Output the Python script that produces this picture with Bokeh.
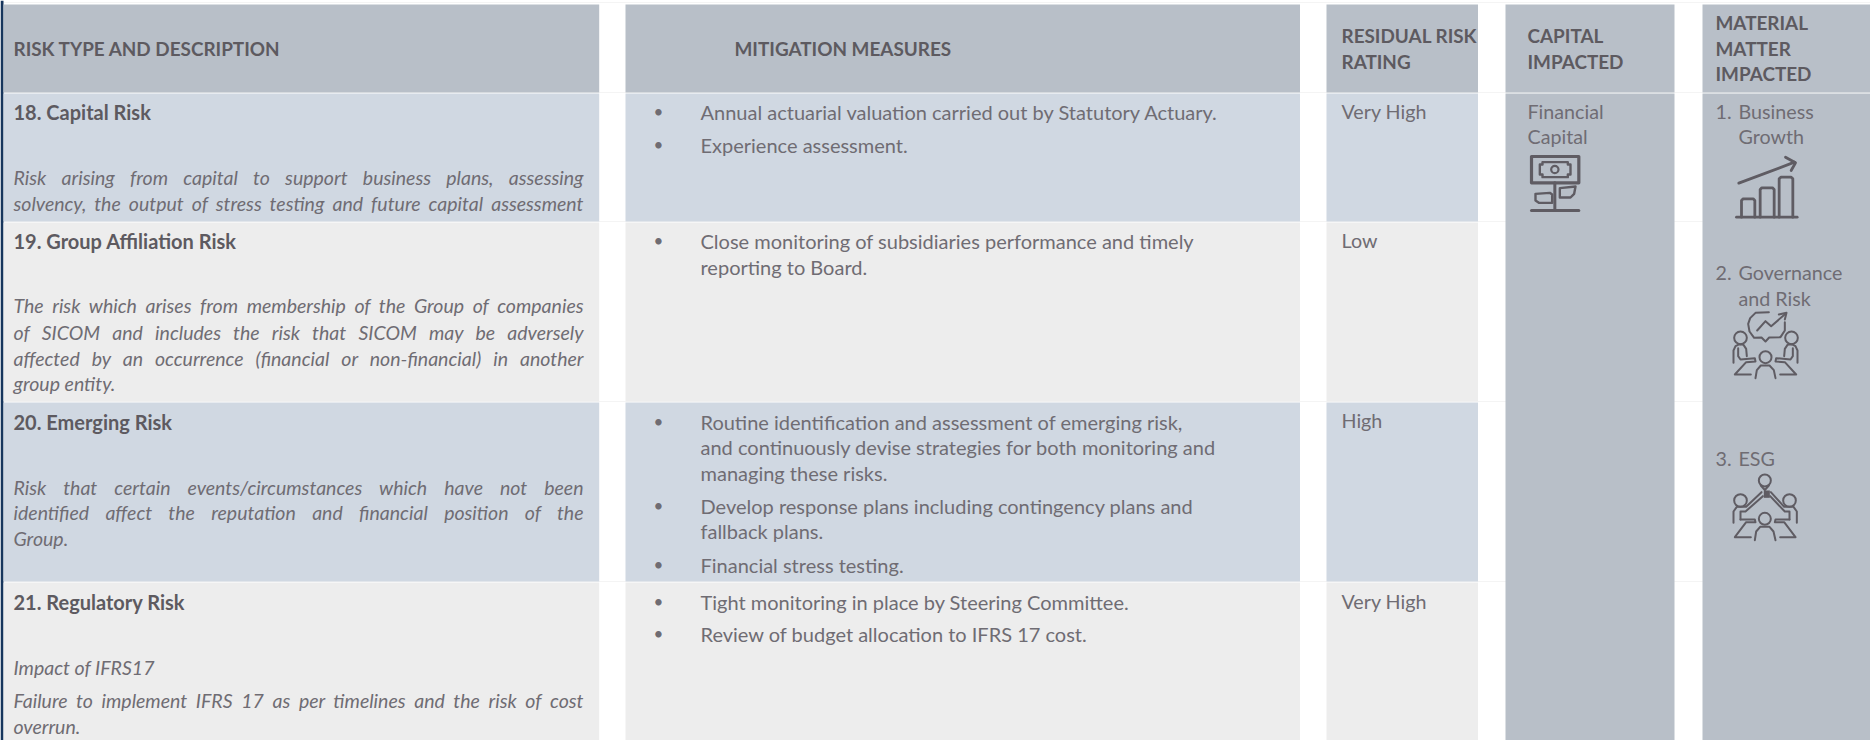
from bokeh.plotting import figure
from bokeh.document import Document
from bokeh.models import ColumnDataSource, CustomJS
from bokeh.core.properties import value
from bokeh.embed import file_html
from bokeh.resources import INLINE

FONT = "Lato"
INK = "#6f6c73"
INK_BOLD = "#5d5a60"
ICON = "#5f5c63"
HEAD = "#b8bfc8"
BLUE = "#d0d8e2"
GREY = "#ededed"
STRIPE = "#17365d"

col_left = [3, 625, 1326, 1505, 1702]
col_right = [598.7, 1299.5, 1477.5, 1674, 1870]
row_tops = [93, 222, 402, 582]
row_bottoms = [221, 401, 581, 740]
row_fill = [BLUE, GREY, BLUE, GREY]

headers = [
    ("RISK TYPE AND DESCRIPTION", 13, 48),
    ("MITIGATION MEASURES", 734, 48),
    ("RESIDUAL RISK", 1341, 35), ("RATING", 1341, 61),
    ("CAPITAL", 1527, 35), ("IMPACTED", 1527, 61),
    ("MATERIAL", 1715, 22), ("MATTER", 1715, 48), ("IMPACTED", 1715, 73),
]
risk_names = [
    ("18. Capital Risk", 13, 111),
    ("19. Group Affiliation Risk", 13, 240),
    ("20. Emerging Risk", 13, 421),
    ("21. Regulatory Risk", 13, 601),
]
descriptions = [
    ("Risk arising from capital to support business plans, assessing", 177, True),
    ("solvency, the output of stress testing and future capital assessment", 203, True),
    ("The risk which arises from membership of the Group of companies", 305, True),
    ("of SICOM and includes the risk that SICOM may be adversely", 332, True),
    ("affected by an occurrence (financial or non-financial) in another", 358, True),
    ("group entity.", 383, False),
    ("Risk that certain events/circumstances which have not been", 487, True),
    ("identified affect the reputation and financial position of the", 512, True),
    ("Group.", 538, False),
    ("Impact of IFRS17", 667, False),
    ("Failure to implement IFRS 17 as per timelines and the risk of cost", 700, True),
    ("overrun.", 726, False),
]
measures = [
    ("Annual actuarial valuation carried out by Statutory Actuary.", 111, True),
    ("Experience assessment.", 144, True),
    ("Close monitoring of subsidiaries performance and timely", 240, True),
    ("reporting to Board.", 266, False),
    ("Routine identification and assessment of emerging risk,", 421, True),
    ("and continuously devise strategies for both monitoring and", 446, False),
    ("managing these risks.", 472, False),
    ("Develop response plans including contingency plans and", 505, True),
    ("fallback plans.", 530, False),
    ("Financial stress testing.", 564, True),
    ("Tight monitoring in place by Steering Committee.", 601, True),
    ("Review of budget allocation to IFRS 17 cost.", 633, True),
]
ratings = [("Very High", 111), ("Low", 240), ("High", 420), ("Very High", 601)]
capital_text = [("Financial", 1527, 111), ("Capital", 1527, 136)]
matter_text = [
    ("1.", 1715, 111), ("Business", 1738, 111), ("Growth", 1738, 136),
    ("2.", 1715, 272), ("Governance", 1738, 272), ("and Risk", 1738, 298),
    ("3.", 1715, 458), ("ESG", 1738, 458),
]

# Icon outlines, in 1/3 pixel units relative to each icon's origin
plant_box = [[(33, 18), (175, 18), (175, 97), (33, 97), (33, 18)]]
plant_lines = [
    [(103, 97), (103, 180)], [(33, 180), (175, 180)],
]
plant_thin = [
    [(66, 35), (142, 35), (142, 42), (150, 42), (150, 72), (142, 72), (142, 80), (66, 80),
     (66, 72), (58, 72), (58, 42), (66, 42), (66, 35)],
    [(45, 130), (88, 127), (95, 132), (95, 157), (55, 157), (45, 150), (45, 130)],
    [(118, 113), (165, 108), (161, 130), (150, 141), (118, 141), (118, 113)],
]
bars_lines = [
    [(33, 200), (215, 200)],
    [(48, 200), (48, 150), (53, 145), (83, 145), (88, 150), (88, 200)],
    [(104, 200), (104, 117), (109, 112), (141, 112), (146, 117), (146, 200)],
    [(161, 200), (161, 85), (166, 80), (197, 80), (202, 85), (202, 200)],
    [(40, 98), (207, 35)],
    [(180, 20), (210, 37), (197, 60)],
]
sitter_left = [
    [(24, 172), (24, 135), (30, 122), (42, 116), (54, 118), (62, 130), (64, 152)],
    [(38, 128), (38, 152), (45, 162), (88, 158), (90, 168), (62, 170), (28, 207), (76, 207)],
]
sitter_right = [[(240 - x, y) for x, y in line] for line in sitter_left]
centre_body = [[(90, 218), (94, 194), (106, 180), (132, 180), (145, 194), (150, 218)]]
chat_lines = [
    [(130, 20), (90, 22), (74, 38), (68, 55), (72, 78), (86, 97), (108, 96), (120, 108),
     (131, 96), (165, 95), (178, 75), (178, 50)],
    [(95, 75), (120, 47), (137, 62), (180, 25)],
    [(160, 27), (183, 22), (178, 42)],
]
bulb_lines = [
    [(106, 60), (118, 74), (130, 60)],
    [(24, 172), (24, 138), (34, 124), (62, 124), (108, 80)],
    [(45, 162), (45, 138), (60, 138), (112, 92)],
    [(45, 162), (88, 162), (90, 170), (62, 170), (28, 215), (76, 215)],
    [(214, 172), (214, 138), (204, 124), (176, 124), (136, 80)],
    [(192, 162), (192, 138), (178, 138), (134, 92)],
    [(192, 162), (150, 162), (148, 170), (176, 170), (210, 215), (164, 215)],
    [(88, 224), (92, 198), (104, 184), (132, 184), (144, 198), (150, 224)],
]

p = figure(width=1870, height=740, x_range=(0, 1870), y_range=(740, 0),
           output_backend="svg", toolbar_location=None, min_border=0,
           outline_line_color=None, background_fill_color="white",
           border_fill_color="white")
p.axis.visible = False
p.grid.visible = False
p.styles = {"position": "absolute", "left": "0px", "top": "0px"}

# faint rules running through the white gaps
p.segment(x0=[0] * 5, x1=[1870] * 5, y0=[2, 92, 221, 401, 581], y1=[2, 92, 221, 401, 581],
          line_color="#f4f4f4", line_width=1)
# left stripe
p.quad(left=[0], right=[3], top=[0], bottom=[740], fill_color=STRIPE, line_color=None)
# header cells
p.quad(left=col_left, right=col_right, top=[4] * 5, bottom=[92] * 5,
       fill_color=HEAD, line_color=None)
# body cells of the first three columns
for i in range(3):
    p.quad(left=[col_left[i]] * 4, right=[col_right[i]] * 4, top=row_tops,
           bottom=row_bottoms, fill_color=row_fill, line_color=None)
# the tall columns
p.quad(left=col_left[3:], right=col_right[3:], top=[93, 93], bottom=[740, 740],
       fill_color=HEAD, line_color=None)


def put(items, size, color=INK, style="normal"):
    s = ColumnDataSource(dict(t=[i[0] for i in items], x=[i[1] for i in items],
                              y=[i[2] for i in items]))
    p.text("x", "y", text="t", source=s, text_font=value(FONT), text_font_size=size,
           text_color=color, text_font_style=style, text_baseline="middle", text_align="left")


put(headers, "18.9px", INK_BOLD, "bold")
put(risk_names, "20px", INK_BOLD, "bold")
put([(t, 13, y) for t, y, _ in descriptions], "19.5px", INK, "italic")
put([(t, 700, y) for t, y, _ in measures], "20px")
put([(t, 1341, y) for t, y in ratings], "19.7px")
put(capital_text, "19.7px")
put(matter_text, "19.7px")
put([("•", 653, y) for t, y, b in measures if b], "17px")


def icon(ox, oy, lines, width):
    p.multi_line(xs=[[ox + x / 3 for x, y in l] for l in lines],
                 ys=[[oy + y / 3 for x, y in l] for l in lines],
                 line_color=ICON, line_width=width, line_join="round", line_cap="round")


def rings(ox, oy, centres, width):
    p.circle(x=[ox + c[0] / 3 for c in centres], y=[oy + c[1] / 3 for c in centres],
             radius=[c[2] / 3 for c in centres], fill_color=None,
             line_color=ICON, line_width=width)


# money plant
icon(1520, 150, plant_box, 3.2)
icon(1520, 150, plant_lines, 3)
icon(1520, 150, plant_thin, 2.4)
rings(1520, 150, [(103, 57, 11)], 2.2)
# growth bars
icon(1725, 150, bars_lines, 2.8)
# meeting with chart
icon(1725, 305, chat_lines + sitter_left + sitter_right + centre_body, 2)
rings(1725, 305, [(45, 97, 19), (198, 97, 19), (120, 155, 18)], 2)
# meeting with bulb
icon(1725, 465, bulb_lines, 2)
rings(1725, 465, [(118, 45, 18), (45, 105, 19), (192, 105, 19), (118, 160, 18)], 2)
p.quad(left=[1725 + 115 / 3], right=[1725 + 133 / 3], top=[465 + 75 / 3], bottom=[465 + 97 / 3],
       fill_color=ICON, line_color=None)

justified = [t for t, y, j in descriptions if j]
js = CustomJS(args=dict(lines=justified, target=570), code="""
function walk(root, out) {
  for (const el of root.querySelectorAll('*')) {
    if (el.tagName && el.tagName.toLowerCase() === 'text') out.push(el);
    if (el.shadowRoot) walk(el.shadowRoot, out);
  }
  return out;
}
const wanted = new Set(lines);
function fit() {
  for (const el of walk(document, [])) {
    const t = el.textContent.replace(/\\s/g, ' ');
    if (wanted.has(t)) {
      el.style.wordSpacing = '0px';
      const gaps = t.split(' ').length - 1;
      el.style.wordSpacing = ((target - el.getComputedTextLength()) / gaps).toFixed(2) + 'px';
    }
  }
}
fit(); setTimeout(fit, 100); setTimeout(fit, 500); setTimeout(fit, 1500);
""")
doc = Document()
doc.add_root(p)
doc.js_on_event("document_ready", js)

open("out.html", "w").write(file_html(doc, INLINE))
